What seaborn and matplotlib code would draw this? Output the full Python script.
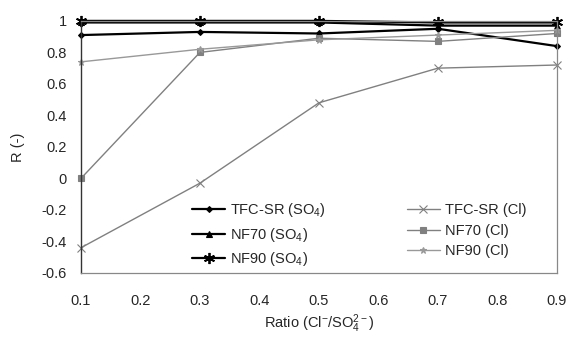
import matplotlib
matplotlib.use('Agg')
import matplotlib.pyplot as plt
import numpy as np
import pandas as pd
import seaborn as sns

ratio = [0.1, 0.3, 0.5, 0.7, 0.9]

tfc_so4 = [0.91, 0.93, 0.92, 0.95, 0.84]
nf70_so4 = [0.99, 0.99, 0.99, 0.97, 0.97]
nf90_so4 = [1.00, 1.00, 1.00, 0.99, 0.99]
tfc_cl = [-0.44, -0.03, 0.48, 0.70, 0.72]
nf70_cl = [0.00, 0.80, 0.89, 0.87, 0.92]
nf90_cl = [0.74, 0.82, 0.88, 0.91, 0.94]

labels = ['TFC-SR (SO$_4$)', 'NF70 (SO$_4$)', 'NF90 (SO$_4$)',
          'TFC-SR (Cl)', 'NF70 (Cl)', 'NF90 (Cl)']
series = [tfc_so4, nf70_so4, nf90_so4, tfc_cl, nf70_cl, nf90_cl]

frames = []
for lab, vals in zip(labels, series):
    frames.append(pd.DataFrame({'ratio': ratio, 'R': vals, 'series': lab}))
data = pd.concat(frames, ignore_index=True)

sns.set_style('white')
plt.rcParams['font.family'] = ['Liberation Sans', 'DejaVu Sans']
plt.rcParams['mathtext.fontset'] = 'custom'
plt.rcParams['mathtext.rm'] = 'Liberation Sans'
plt.rcParams['mathtext.it'] = 'Liberation Sans'

palette = {labels[0]: 'black', labels[1]: 'black', labels[2]: 'black',
           labels[3]: '#808080', labels[4]: '#808080', labels[5]: '#999999'}
markers = {labels[0]: 'D', labels[1]: '^', labels[2]: (6, 2, 0),
           labels[3]: 'x', labels[4]: 's', labels[5]: '*'}
msizes = {labels[0]: 3, labels[1]: 4, labels[2]: 8,
          labels[3]: 6, labels[4]: 4, labels[5]: 5}

fig = plt.figure(figsize=(5.7, 3.37), dpi=100)
ax = fig.add_axes([0.142, 0.190, 0.835, 0.748])

for lab in labels:
    d = data[data['series'] == lab]
    is_so4 = 'SO' in lab
    sns.lineplot(data=d, x='ratio', y='R', ax=ax, color=palette[lab],
                 marker=markers[lab], markersize=msizes[lab],
                 markeredgewidth=1.3 if lab == labels[2] else 0.8,
                 markeredgecolor=palette[lab], clip_on=False,
                 linewidth=1.6 if is_so4 else 1.0, label=lab)

ax.set_xlim(0.1, 0.9)
ax.set_ylim(-0.6, 1.0)
ax.set_xticks(np.arange(0.1, 0.91, 0.1))
ax.set_xticklabels(['0.1', '0.2', '0.3', '0.4', '0.5', '0.6', '0.7', '0.8', '0.9'])
ax.set_yticks(np.arange(-0.6, 1.01, 0.2))
ax.set_yticklabels(['-0.6', '-0.4', '-0.2', '0', '0.2', '0.4', '0.6', '0.8', '1'])
ax.tick_params(labelsize=10.5, length=0)
ax.tick_params(axis='x', pad=15)
ax.tick_params(axis='y', pad=10)

for side in ['top', 'right', 'bottom']:
    ax.spines[side].set_color('#888888')
    ax.spines[side].set_linewidth(0.9)
ax.spines['left'].set_color('#333333')
ax.spines['left'].set_linewidth(1.0)

ax.set_xlabel('Ratio (Cl$^{-}$/SO$_4^{2-}$)', fontsize=10.5, labelpad=3)
ax.set_ylabel('R (-)', fontsize=10.5, labelpad=12)

handles, labs = ax.get_legend_handles_labels()
leg = ax.legend(handles, labs, ncol=2, loc='center left',
                bbox_to_anchor=(0.233, 0.152), fontsize=10.5, frameon=False,
                borderaxespad=0, borderpad=0, handlelength=2.3,
                handletextpad=0.35, columnspacing=5.5, labelspacing=0.45)

fig.savefig('out.png', dpi=100)
